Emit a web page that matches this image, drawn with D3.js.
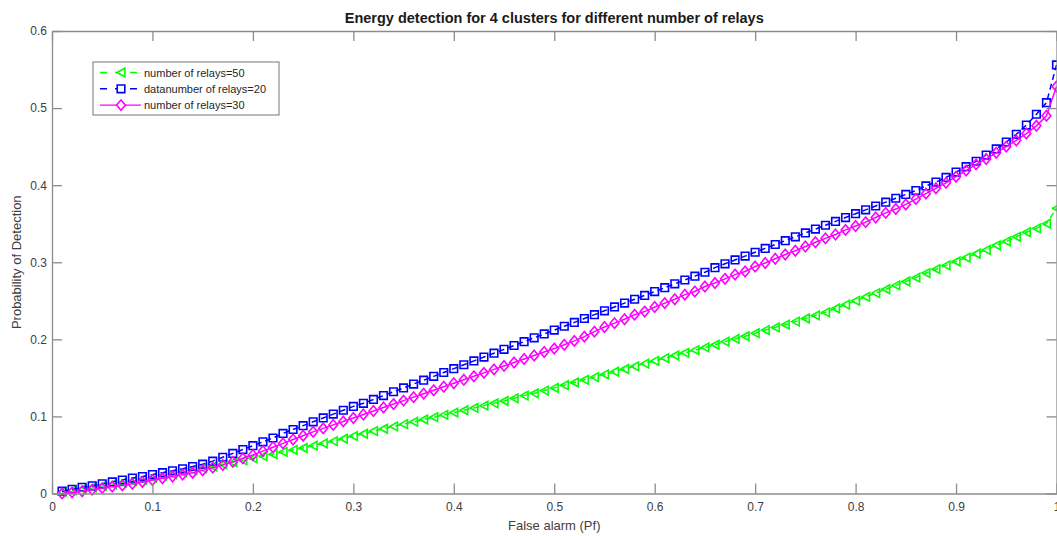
<!DOCTYPE html>
<html>
<head>
<meta charset="utf-8">
<script src="https://cdn.jsdelivr.net/npm/d3@7"></script>
<style>
  html, body { margin: 0; padding: 0; background: #fff; }
  svg { display: block; font-family: "Liberation Sans", Arial, Helvetica, sans-serif; }
</style>
</head>
<body>
<svg id="chart" width="1057" height="536"></svg>
<script>
// False-alarm probability grid
const pf = [
  0.01,0.02,0.03,0.04,0.05,0.06,0.07,0.08,0.09,0.10,
  0.11,0.12,0.13,0.14,0.15,0.16,0.17,0.18,0.19,0.20,
  0.21,0.22,0.23,0.24,0.25,0.26,0.27,0.28,0.29,0.30,
  0.31,0.32,0.33,0.34,0.35,0.36,0.37,0.38,0.39,0.40,
  0.41,0.42,0.43,0.44,0.45,0.46,0.47,0.48,0.49,0.50,
  0.51,0.52,0.53,0.54,0.55,0.56,0.57,0.58,0.59,0.60,
  0.61,0.62,0.63,0.64,0.65,0.66,0.67,0.68,0.69,0.70,
  0.71,0.72,0.73,0.74,0.75,0.76,0.77,0.78,0.79,0.80,
  0.81,0.82,0.83,0.84,0.85,0.86,0.87,0.88,0.89,0.90,
  0.91,0.92,0.93,0.94,0.95,0.96,0.97,0.98,0.99,1.00
];

// Probability of detection, 50 relays
const pdRelays50 = [
  0.002,0.004,0.006,0.008,0.010,0.012,0.014,0.016,0.018,0.0205,
  0.023,0.025,0.0275,0.030,0.0325,0.035,0.0378,0.0405,0.043,0.0457,
  0.0485,0.051,0.054,0.0565,0.059,0.062,0.065,0.068,0.071,0.0745,
  0.0775,0.081,0.084,0.087,0.090,0.093,0.096,0.099,0.102,0.105,
  0.108,0.111,0.114,0.117,0.120,0.1235,0.127,0.130,0.1335,0.137,
  0.1405,0.144,0.1475,0.151,0.1545,0.158,0.1615,0.165,0.1685,0.172,
  0.1755,0.179,0.1825,0.186,0.1895,0.193,0.197,0.2005,0.204,0.208,
  0.212,0.2155,0.219,0.223,0.227,0.231,0.235,0.240,0.245,0.250,
  0.255,0.260,0.265,0.270,0.275,0.280,0.286,0.291,0.296,0.301,
  0.306,0.311,0.316,0.322,0.327,0.333,0.339,0.344,0.350,0.370
];

// Probability of detection, 20 relays
const pdRelays20 = [
  0.003,0.0055,0.008,0.010,0.0125,0.015,0.0175,0.020,0.022,0.0245,
  0.027,0.0295,0.032,0.035,0.038,0.042,0.047,0.052,0.057,0.062,
  0.067,0.072,0.078,0.083,0.088,0.093,0.098,0.103,0.108,0.113,
  0.117,0.122,0.127,0.132,0.137,0.142,0.147,0.152,0.157,0.162,
  0.167,0.172,0.177,0.182,0.187,0.192,0.197,0.202,0.207,0.212,
  0.217,0.222,0.227,0.232,0.237,0.242,0.247,0.252,0.257,0.262,
  0.267,0.272,0.277,0.282,0.287,0.293,0.298,0.303,0.308,0.313,
  0.318,0.323,0.328,0.333,0.338,0.343,0.348,0.353,0.358,0.363,
  0.368,0.373,0.378,0.383,0.388,0.393,0.399,0.404,0.410,0.417,
  0.424,0.431,0.439,0.447,0.456,0.466,0.478,0.492,0.507,0.556
];

// Probability of detection, 30 relays
const pdRelays30 = [
  0.000,0.0015,0.003,0.005,0.007,0.009,0.0105,0.0125,0.015,0.0175,
  0.0197,0.022,0.0245,0.027,0.030,0.0335,0.037,0.041,0.0455,0.050,
  0.055,0.060,0.065,0.070,0.075,0.080,0.0845,0.089,0.0935,0.098,
  0.1025,0.107,0.1115,0.116,0.1205,0.125,0.1295,0.134,0.1385,0.143,
  0.1475,0.152,0.1565,0.161,0.1655,0.170,0.1745,0.179,0.1835,0.188,
  0.193,0.198,0.2035,0.210,0.216,0.221,0.226,0.232,0.236,0.242,
  0.247,0.252,0.258,0.262,0.2685,0.273,0.2785,0.284,0.288,0.2945,
  0.299,0.3045,0.310,0.315,0.3205,0.326,0.331,0.336,0.342,0.347,
  0.352,0.358,0.364,0.369,0.375,0.382,0.389,0.396,0.403,0.411,
  0.419,0.427,0.434,0.442,0.450,0.458,0.467,0.477,0.490,0.528
];

const xTicks = [0, 0.1, 0.2, 0.3, 0.4, 0.5, 0.6, 0.7, 0.8, 0.9, 1];
const xTickLabels = ["0", "0.1", "0.2", "0.3", "0.4", "0.5", "0.6", "0.7", "0.8", "0.9", "1"];
const yTicks = [0, 0.1, 0.2, 0.3, 0.4, 0.5, 0.6];
const yTickLabels = ["0", "0.1", "0.2", "0.3", "0.4", "0.5", "0.6"];

const seriesNames = ["number of relays=50", "datanumber of relays=20", "number of relays=30"];
const titleText = "Energy detection for 4 clusters for different number of relays";
const xLabelText = "False alarm (Pf)";
const yLabelText = "Probability of Detection";

// Drawing styles per series, in legend order
const styles = [
  { values: pdRelays50, color: "#00ff00", dash: "6,4", marker: "triangleLeft" },
  { values: pdRelays20, color: "#0000ff", dash: "6,4", marker: "square" },
  { values: pdRelays30, color: "#ff00ff", dash: null,  marker: "diamond" }
];

const svg = d3.select("#chart");
const margin = { left: 52, right: 1056.5, top: 31, bottom: 493.5 };

const x = d3.scaleLinear().domain([0, 1]).range([margin.left, margin.right]);
const y = d3.scaleLinear().domain([0, 0.6]).range([margin.bottom, margin.top]);

const axisColor = "#8c8c8c";
const textColor = "#404040";
const tickLen = 10;

// Marker outlines centred on (0,0)
function markerPath(kind) {
  const p = d3.path();
  if (kind === "square") {
    const h = 3.8;
    p.rect(-h, -h, 2 * h, 2 * h);
  } else if (kind === "diamond") {
    const w = 4.4, hh = 5.2;
    p.moveTo(0, -hh); p.lineTo(w, 0); p.lineTo(0, hh); p.lineTo(-w, 0); p.closePath();
  } else {
    const w = 3.9, hh = 4.3;
    p.moveTo(-w, 0); p.lineTo(w, -hh); p.lineTo(w, hh); p.closePath();
  }
  return p.toString();
}

// Series, clipped just outside the plot box
svg.append("clipPath").attr("id", "plotClip")
  .append("rect")
  .attr("x", margin.left - 6).attr("y", margin.top - 6)
  .attr("width", margin.right - margin.left + 12).attr("height", margin.bottom - margin.top + 12);

const plot = svg.append("g").attr("clip-path", "url(#plotClip)");

const line = d3.line().x((d, i) => x(pf[i])).y(d => y(d));

styles.forEach(s => {
  const g = plot.append("g");
  g.append("path")
    .datum(s.values)
    .attr("d", line)
    .attr("fill", "none")
    .attr("stroke", s.color)
    .attr("stroke-width", 1.5)
    .attr("stroke-dasharray", s.dash);
  g.selectAll("path.mk")
    .data(s.values)
    .join("path")
    .attr("class", "mk")
    .attr("transform", (d, i) => `translate(${x(pf[i])},${y(d)})`)
    .attr("d", markerPath(s.marker))
    .attr("fill", "none")
    .attr("stroke", s.color)
    .attr("stroke-width", 1.6);
});

// Axes with inward ticks on all four sides
const xAxisBottom = d3.axisBottom(x).tickValues(xTicks)
  .tickFormat((d, i) => xTickLabels[i]).tickSizeInner(-tickLen).tickSizeOuter(0).tickPadding(9);
const yAxisLeft = d3.axisLeft(y).tickValues(yTicks)
  .tickFormat((d, i) => yTickLabels[i]).tickSizeInner(-tickLen).tickSizeOuter(0).tickPadding(5);
const xAxisTop = d3.axisTop(x).tickValues(xTicks).tickFormat("").tickSizeInner(-tickLen).tickSizeOuter(0);
const yAxisRight = d3.axisRight(y).tickValues(yTicks).tickFormat("").tickSizeInner(-tickLen).tickSizeOuter(0);

function styleAxis(g) {
  g.select(".domain").attr("stroke", axisColor).attr("stroke-width", 1.3);
  g.selectAll(".tick line").attr("stroke", axisColor).attr("stroke-width", 1.3);
  g.selectAll(".tick text").attr("fill", textColor)
    .style("font-size", "12px")
    .style("font-family", "'Liberation Sans', Arial, sans-serif");
}

svg.append("g").attr("transform", `translate(0,${margin.bottom})`).call(xAxisBottom).call(styleAxis);
svg.append("g").attr("transform", `translate(${margin.left},0)`).call(yAxisLeft).call(styleAxis);
svg.append("g").attr("transform", `translate(0,${margin.top})`).call(xAxisTop).call(styleAxis);
svg.append("g").attr("transform", `translate(${margin.right},0)`).call(yAxisRight).call(styleAxis);

// Title and axis labels
svg.append("text")
  .attr("x", (margin.left + margin.right) / 2).attr("y", 23)
  .attr("text-anchor", "middle")
  .attr("font-weight", "bold").attr("font-size", 14.5)
  .attr("fill", "#1a1a1a")
  .text(titleText);

svg.append("text")
  .attr("x", (margin.left + margin.right) / 2).attr("y", 530)
  .attr("text-anchor", "middle")
  .attr("font-size", 13).attr("fill", textColor)
  .text(xLabelText);

svg.append("text")
  .attr("transform", `translate(21,${(margin.top + margin.bottom) / 2}) rotate(-90)`)
  .attr("text-anchor", "middle")
  .attr("font-size", 13).attr("fill", textColor)
  .text(yLabelText);

// Legend
const legend = svg.append("g").attr("transform", "translate(93,62)");
legend.append("rect")
  .attr("x", 0).attr("y", 0).attr("width", 186).attr("height", 53)
  .attr("fill", "#fff").attr("stroke", axisColor).attr("stroke-width", 1.2);

styles.forEach((s, i) => {
  const row = legend.append("g").attr("transform", `translate(0,${10.5 + i * 16.3})`);
  row.append("line")
    .attr("x1", 7).attr("x2", 48).attr("y1", 0).attr("y2", 0)
    .attr("stroke", s.color).attr("stroke-width", 1.4)
    .attr("stroke-dasharray", s.dash ? "7,8" : null);
  row.append("path")
    .attr("transform", "translate(28,0)")
    .attr("d", markerPath(s.marker))
    .attr("fill", "#fff")
    .attr("stroke", s.color).attr("stroke-width", 1.6);
  row.append("text")
    .attr("x", 51).attr("y", 4)
    .attr("font-size", 11).attr("fill", "#262626")
    .text(seriesNames[i]);
});
</script>
</body>
</html>
